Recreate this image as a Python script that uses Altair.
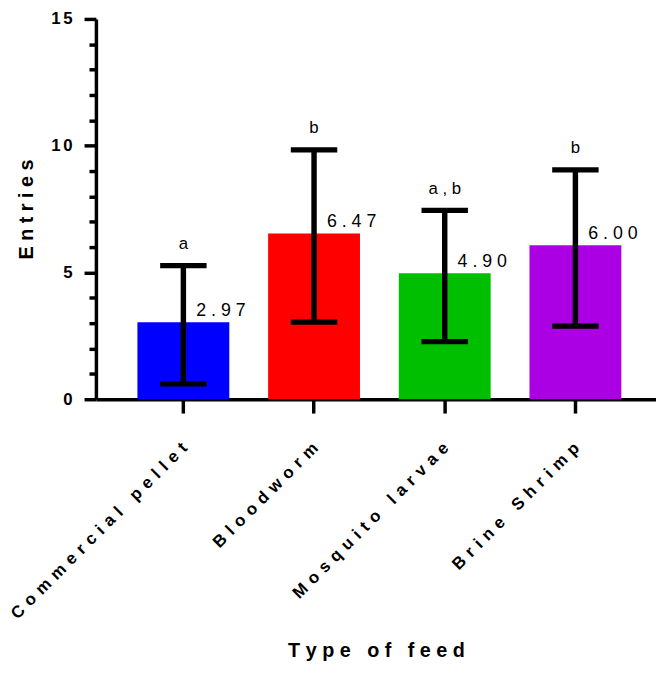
import altair as alt
import pandas as pd

# ---- data ----
feeds = ["Commercial pellet", "Bloodworm", "Mosquito larvae", "Brine Shrimp"]
bar_values = [3.04, 6.54, 4.97, 6.07]
err_high = [5.27, 9.84, 7.45, 9.05]
err_low = [0.61, 3.04, 2.27, 2.88]
value_labels = ["2.97", "6.47", "4.90", "6.00"]
group_letters = ["a", "b", "a,b", "b"]
bar_colors = ["#0000FF", "#FF0000", "#00BF00", "#AB00E3"]
y_tick_values = list(range(0, 16))

df = pd.DataFrame({
    "feed": feeds,
    "value": bar_values,
    "hi": err_high,
    "lo": err_low,
    "vlab": value_labels,
    "letter": group_letters,
})

NB = "\u00a0"
HAIR = "\u200a"
FONT = "Liberation Sans"

x_axis = alt.Axis(
    title=NB.join("Type of feed"),
    titleFont=FONT, titleFontSize=20, titleFontWeight="bold", titleColor="black",
    titleY=260, titleBaseline="alphabetic",
    labelAngle=-45, labelAlign="right", labelBaseline="alphabetic",
    labelFont=FONT, labelFontSize=17, labelFontWeight="bold", labelColor="black",
    labelPadding=36, labelOffset=5, labelLimit=500, labelOverlap=False, labelBound=False,
    labelExpr="join(split(datum.label, ''), '" + NB + HAIR + "')",
    domainColor="black", domainWidth=3.5,
    tickColor="black", tickWidth=3.5, tickSize=14,
    grid=False,
)

y_axis = alt.Axis(
    values=y_tick_values,
    title=NB.join("Entries"),
    titleFont=FONT, titleFontSize=20, titleFontWeight="bold", titleColor="black",
    titleAngle=-90, titleX=-64, titleY=192.5, titleAlign="center", titleBaseline="alphabetic",
    labelExpr="datum.value % 5 === 0 ? join(split(datum.label, ''), '" + HAIR + HAIR + "') : ''",
    labelFont=FONT, labelFontSize=17, labelFontWeight="bold", labelColor="black",
    labelPadding=12, labelOverlap=False,
    tickSize={"condition": {"test": "datum.value % 5 === 0", "value": 12}, "value": 7},
    tickColor="black", tickWidth=3.5,
    domainColor="black", domainWidth=3.5,
    grid=False,
)

x_enc = alt.X(
    "feed:N", sort=feeds,
    scale=alt.Scale(paddingInner=0.297, paddingOuter=0.2915, align=0.545),
    axis=x_axis,
)
y_scale = alt.Scale(domain=[0, 15], nice=False, zero=True)
Y_TITLE = NB.join("Entries")


def y_of(field):
    return alt.Y(field, scale=y_scale, axis=y_axis, title=Y_TITLE)


base = alt.Chart(df).encode(x=x_enc)

bars = base.mark_bar().encode(
    y=y_of("value:Q"),
    color=alt.Color("feed:N", scale=alt.Scale(domain=feeds, range=bar_colors), legend=None),
)

err_rule = base.mark_rule(color="black", strokeWidth=5.5).encode(
    y=y_of("lo:Q"),
    y2="hi:Q",
)

cap_hi = base.mark_tick(color="black", thickness=5.3, size=47, opacity=1).encode(
    y=y_of("hi:Q"),
)
cap_lo = base.mark_tick(color="black", thickness=5.3, size=47, opacity=1).encode(
    y=y_of("lo:Q"),
)

value_text = base.transform_calculate(
    vtxt="join(split(datum.vlab, ''), '" + NB + "')"
).mark_text(
    align="left", baseline="alphabetic", dx=13, dy=-6,
    font=FONT, fontSize=18, color="black",
).encode(
    y=y_of("value:Q"),
    text="vtxt:N",
)

letter_text = base.transform_calculate(
    ltxt="join(split(datum.letter, ''), '" + NB + "')"
).mark_text(
    align="center", baseline="alphabetic", dy=-17,
    font=FONT, fontSize=17, color="black",
).encode(
    y=y_of("hi:Q"),
    text="ltxt:N",
)

chart = alt.layer(
    bars, err_rule, cap_hi, cap_lo, value_text, letter_text
).properties(
    width=567, height=385,
    padding={"left": 89, "top": 7, "right": 0, "bottom": 267},
    autosize=alt.AutoSizeParams(type="none"),
    background="white",
).configure_view(stroke=None)

chart.save("out.html", embed_options={"renderer": "svg", "actions": False})
